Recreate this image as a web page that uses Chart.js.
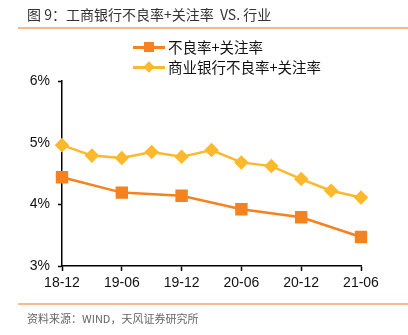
<!DOCTYPE html>
<html>
<head>
<meta charset="utf-8">
<script src="https://cdn.jsdelivr.net/npm/chart.js@4.4.0/dist/chart.umd.min.js"></script>
<style>
  body { margin: 0; background: #fff; }
  #wrap { position: relative; width: 408px; height: 335px; overflow: hidden; font-family: "Noto Sans CJK SC", sans-serif; }
  #chart { position: absolute; left: 0; top: 0; }
  .title { position: absolute; left: 27px; top: 4px; font-size: 14px; color: #333; white-space: nowrap; }
  .rule { position: absolute; left: 18px; width: 390px; height: 1.5px; background: #f7b98e; }
  .source { position: absolute; left: 27px; top: 310px; font-size: 11px; color: #666; white-space: nowrap; }
  .legend { position: absolute; left: 133px; top: 37px; font-size: 14.5px; color: #111; }
  .legend div { position: relative; height: 20px; line-height: 20px; padding-left: 35px; white-space: nowrap; }
  .legend .ln { position: absolute; left: 0; top: 9px; width: 32px; height: 2.5px; }
  .legend .sq { position: absolute; left: 11px; top: 5px; width: 10px; height: 10px; }
  .legend .dm { position: absolute; left: 12px; top: 6px; width: 8px; height: 8px; transform: rotate(45deg); }
</style>
</head>
<body>
<div id="wrap">
  <canvas id="chart" width="408" height="335"></canvas>
  <div class="title">图 9：工商银行不良率+关注率&nbsp; VS.&nbsp;行业</div>
  <div class="rule" style="top:27px"></div>
  <div class="legend">
    <div><span class="ln" style="background:#f6821f"></span><span class="sq" style="background:#f6821f"></span>不良率+关注率</div>
    <div><span class="ln" style="background:#fbb92b"></span><span class="dm" style="background:#fbb92b"></span>商业银行不良率+关注率</div>
  </div>
  <div class="rule" style="top:303px"></div>
  <div class="source">资料来源：WIND，天风证券研究所</div>
</div>
<script>
// quarters on the x axis, only half-years get a label
var quarters = ['18-12', '19-03', '19-06', '19-09', '19-12', '20-03', '20-06', '20-09', '20-12', '21-03', '21-06'];
// ICBC: half-year points only
var icbcRate = [4.44, null, 4.19, null, 4.14, null, 3.92, null, 3.79, null, 3.47];
// banking industry: quarterly
var industryRate = [4.96, 4.79, 4.75, 4.85, 4.77, 4.88, 4.68, 4.62, 4.41, 4.22, 4.11];

var ctx = document.getElementById('chart').getContext('2d');

new Chart(ctx, {
    type: 'line',
    data: {
        labels: quarters,
        datasets: [{
            label: '不良率+关注率',
            data: icbcRate,
            borderColor: '#f6821f',
            backgroundColor: '#f6821f',
            borderWidth: 2.5,
            pointStyle: 'rect',
            pointRadius: 7,
            spanGaps: true,
            tension: 0
        }, {
            label: '商业银行不良率+关注率',
            data: industryRate,
            borderColor: '#fbb92b',
            backgroundColor: '#fbb92b',
            borderWidth: 2.5,
            pointStyle: 'rectRot',
            pointRadius: 5.5,
            tension: 0
        }]
    },
    options: {
        responsive: false,
        animation: false,
        layout: { padding: { left: 0, right: 47, top: 81, bottom: 0 } },
        scales: {
            x: {
                afterFit: function (scale) { scale.height = 69; },  // puts the x axis at y=266
                offset: false,
                border: { display: true, color: '#000', width: 1.5 },
                grid: {
                    drawOnChartArea: false,
                    drawTicks: true,
                    tickLength: 5,
                    tickWidth: 1.5,
                    tickColor: function (c) { return c.index % 2 === 0 ? '#000' : 'rgba(0,0,0,0)'; }
                },
                ticks: {
                    autoSkip: false,
                    maxRotation: 0,
                    padding: 4,
                    color: '#111',
                    font: { family: 'Liberation Sans', size: 14 },
                    callback: function (v, i) { return i % 2 === 0 ? quarters[i] : ''; }
                }
            },
            y: {
                afterFit: function (scale) { scale.width = 62; },
                min: 3,
                max: 6,
                border: { display: true, color: '#000', width: 1.5 },
                grid: {
                    drawOnChartArea: false,
                    drawTicks: true,
                    tickLength: 4,
                    tickWidth: 1.5,
                    tickColor: '#000'
                },
                ticks: {
                    stepSize: 1,
                    padding: 8,
                    color: '#111',
                    font: { family: 'Liberation Sans', size: 14 },
                    callback: function (v) { return v + '%'; }
                }
            }
        },
        plugins: {
            legend: { display: false },
            tooltip: { enabled: false }
        }
    }
});
</script>
</body>
</html>
